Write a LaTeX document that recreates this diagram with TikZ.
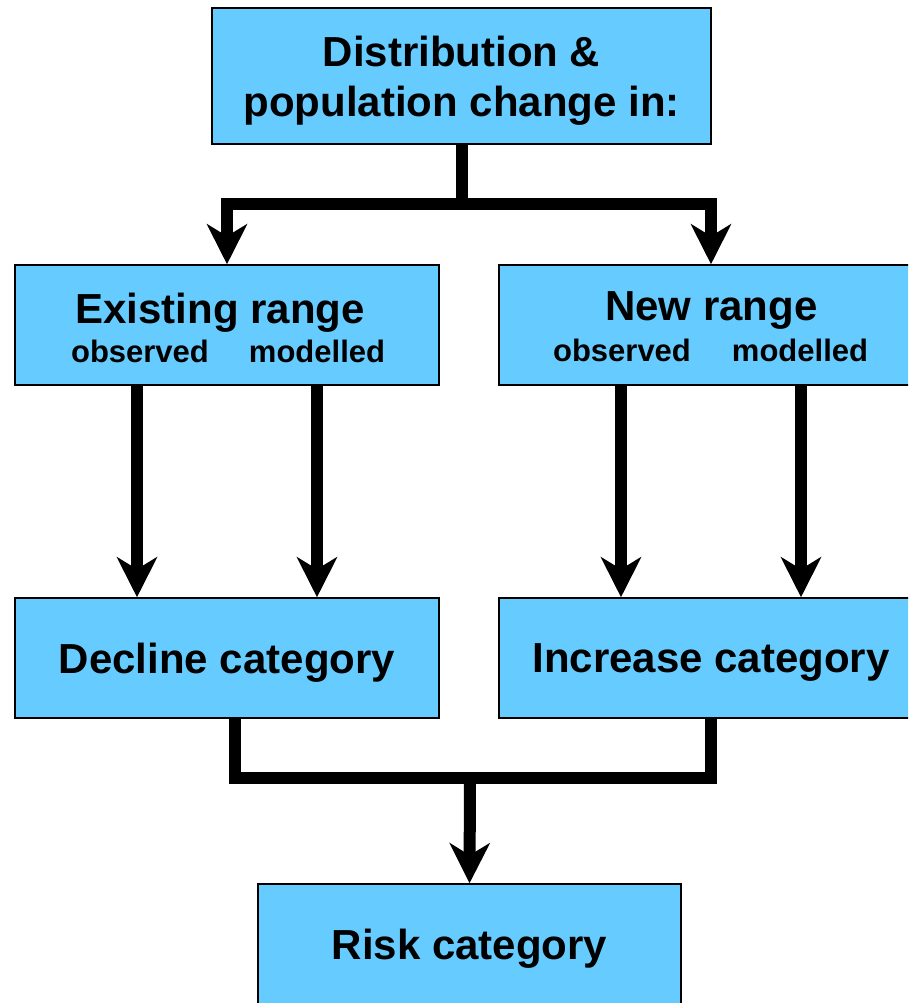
\documentclass[tikz,border=0pt]{standalone}
\usepackage{fontspec}
\setmainfont{Liberation Sans}
\usetikzlibrary{arrows.meta}
\definecolor{boxblue}{RGB}{102,204,255}
\newcommand{\bigtxt}{\fontsize{42}{50}\selectfont\bfseries}
\newcommand{\smalltxt}{\fontsize{31}{50}\selectfont\bfseries}
\tikzset{
  box/.style={draw=black, line width=1.5pt, fill=boxblue, minimum width=424pt,
    minimum height=120pt, align=center, inner sep=0pt, text depth=0pt, font=\bigtxt},
  title/.style={anchor=base, inner sep=0pt, font=\bigtxt},
  sub/.style={anchor=base, inner sep=0pt, font=\smalltxt},
  link/.style={line width=12pt},
  arr/.style={link, -{Stealth[length=40pt,width=40pt,inset=12pt]}}
}
\begin{document}
\begin{tikzpicture}[x=1pt,y=-1pt]
\clip (0,0) rectangle (908,1003);
\node[box, minimum width=499pt, minimum height=136pt] (top) at (461.5,76) {Distribution \&\\population change in:};
\node[box] (exist) at (227,325) {};
\node[title] (existT) at (220,323) {Existing range};
\node[sub] (existO) at (140,362) {observed};
\node[sub] (existM) at (317,362) {modelled};
\node[box] (new) at (711,325) {};
\node[title] (newT) at (711.5,320) {New range};
\node[sub] (newO) at (622,361) {observed};
\node[sub] (newM) at (800,361) {modelled};
\node[box] (decl) at (227,658) {Decline category};
\node[box] (incr) at (711,658) {Increase category};
\node[box, minimum width=423pt] (risk) at (469.5,944) {Risk category};
\coordinate (split) at (461.5,204);
\coordinate (join) at (470,778);
\draw[arr] (top.south) -- (split) -| (exist.north);
\draw[arr] (top.south) -- (split) -| (new.north);
\foreach \s in {-90,90} {
  \draw[arr] ([xshift=\s]exist.south) -- ([xshift=\s]decl.north);
  \draw[arr] ([xshift=\s]new.south) -- ([xshift=\s]incr.north);
}
\draw[link] ([xshift=8]decl.south) |- (join) -| (incr.south);
\draw[arr] (join) -- (risk.north);
\end{tikzpicture}
\end{document}
